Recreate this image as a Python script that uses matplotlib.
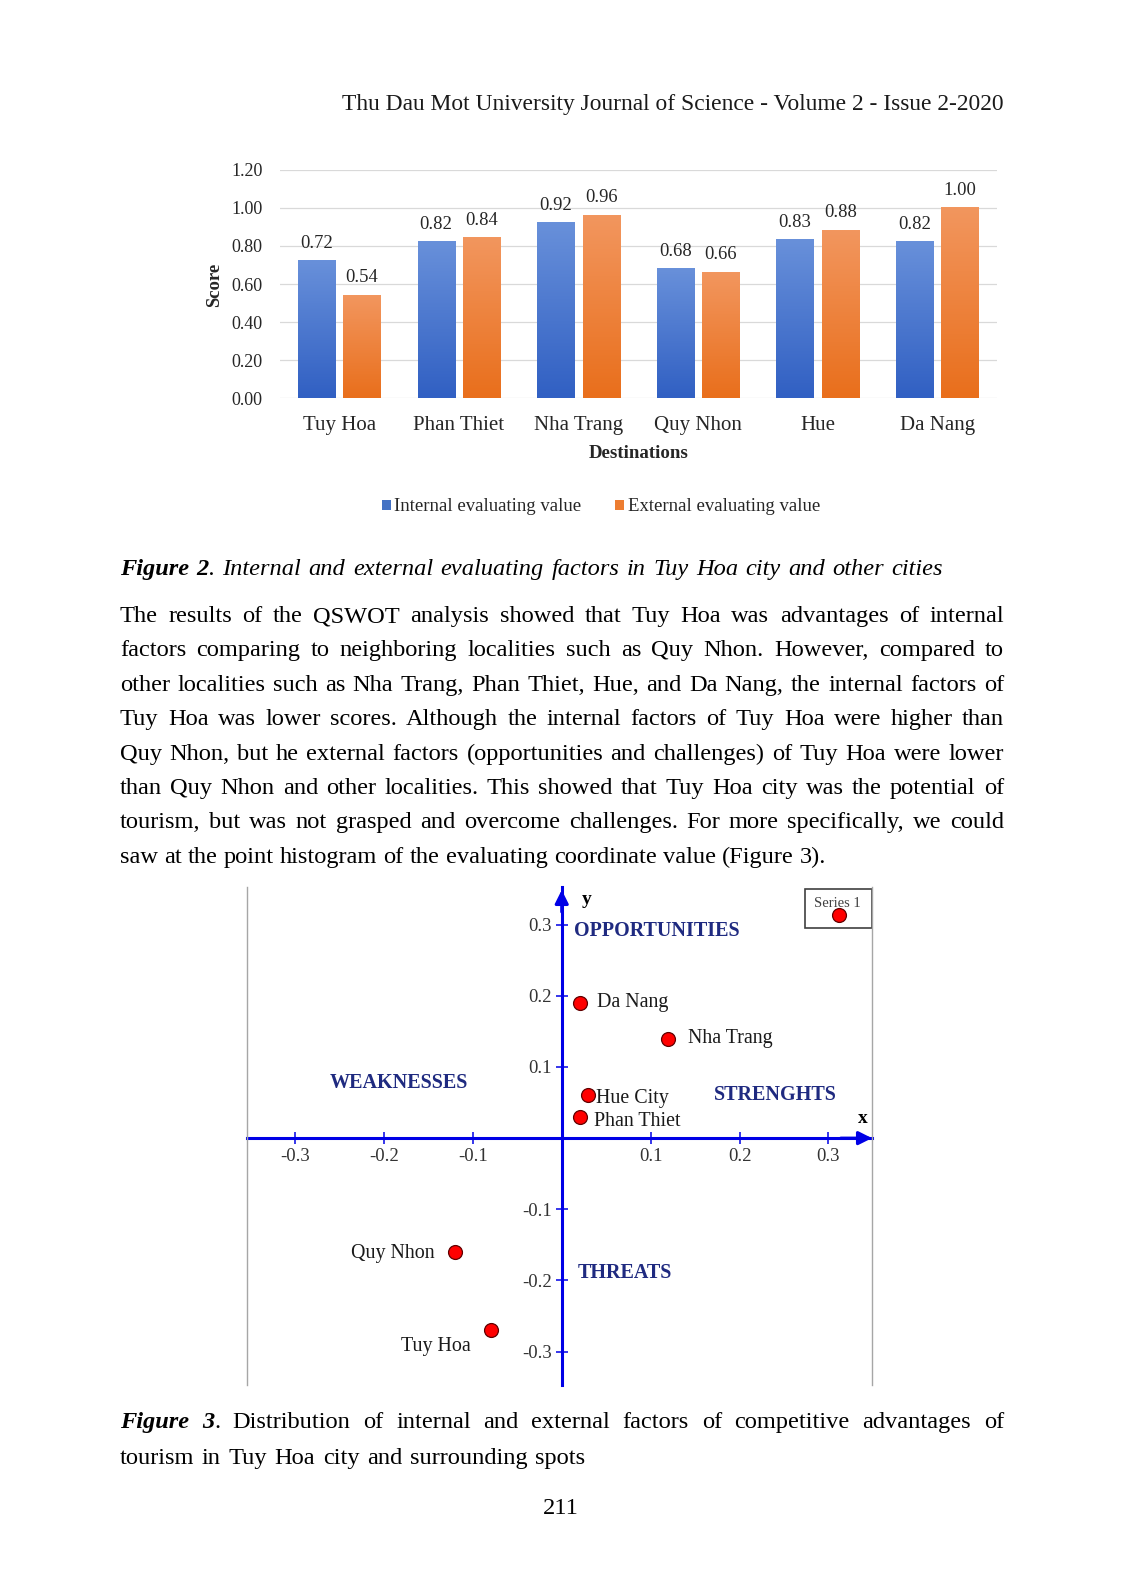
import matplotlib
matplotlib.use('Agg')
from matplotlib import pyplot as plt
from matplotlib.colors import LinearSegmentedColormap
from matplotlib.lines import Line2D
from matplotlib.patches import Rectangle
import numpy as np

W, H = 1122, 1594
SERIF = 'Liberation Serif'
plt.rcParams['font.family'] = SERIF

# --- figure 2 data ---
destinations = ['Tuy Hoa', 'Phan Thiet', 'Nha Trang', 'Quy Nhon', 'Hue', 'Da Nang']
internal_vals = [0.72, 0.82, 0.92, 0.68, 0.83, 0.82]
external_vals = [0.54, 0.84, 0.96, 0.66, 0.88, 1.00]
score_ticks = [0.0, 0.2, 0.4, 0.6, 0.8, 1.0, 1.2]

# --- figure 3 data ---
cities = ['Da Nang', 'Nha Trang', 'Hue City', 'Phan Thiet', 'Quy Nhon', 'Tuy Hoa']
city_x = [0.02, 0.12, 0.03, 0.02, -0.12, -0.08]
city_y = [0.19, 0.14, 0.06, 0.03, -0.16, -0.27]
coord_ticks = [-0.3, -0.2, -0.1, 0.1, 0.2, 0.3]
quadrants = ['OPPORTUNITIES', 'WEAKNESSES', 'STRENGHTS', 'THREATS']

# --- page text ---
header = 'Thu Dau Mot University Journal of Science - Volume 2 - Issue 2-2020'
caption2 = [('Figure 2', 'bi'), ('. Internal and external evaluating factors in Tuy Hoa city and other cities', 'i')]
paragraph = [
    'The results of the QSWOT analysis showed that Tuy Hoa was advantages of internal',
    'factors comparing to neighboring localities such as Quy Nhon. However, compared to',
    'other localities such as Nha Trang, Phan Thiet, Hue, and Da Nang, the internal factors of',
    'Tuy Hoa was lower scores. Although the internal factors of Tuy Hoa were higher than',
    'Quy Nhon, but he external factors (opportunities and challenges) of Tuy Hoa were lower',
    'than Quy Nhon and other localities. This showed that Tuy Hoa city was the potential of',
    'tourism, but was not grasped and overcome challenges. For more specifically, we could',
    'saw at the point histogram of the evaluating coordinate value (Figure 3).',
]
caption3 = [
    [('Figure 3', 'bi'), ('. Distribution of internal and external factors of competitive advantages of', 'n')],
    [('tourism in Tuy Hoa city and surrounding spots', 'n')],
]
page_no = '211'

# label placement for figure 3 (pixel offsets from the dot, alignment)
label_style = {
    'Da Nang': (17, 0, 'left'),
    'Nha Trang': (20, 0, 'left'),
    'Hue City': (8, -3, 'left'),
    'Phan Thiet': (14, -5, 'left'),
    'Quy Nhon': (-20, -2, 'right'),
    'Tuy Hoa': (-20, -16, 'right'),
}
quad_pos = {
    'OPPORTUNITIES': (0.0135, 0.291),
    'WEAKNESSES': (-0.261, 0.077),
    'STRENGHTS': (0.1715, 0.061),
    'THREATS': (0.0183, -0.190),
}

fig = plt.figure(figsize=(W / 100, H / 100), dpi=100)
fig.patch.set_facecolor('white')
renderer = fig.canvas.get_renderer()


def fx(x):
    return x / W


def fy(y):
    return 1 - y / H


def width_of(s, **kw):
    t = fig.text(0, 0, s, **kw)
    w = t.get_window_extent(renderer).width
    t.remove()
    return w


STYLES = {'n': dict(), 'i': dict(style='italic'), 'bi': dict(style='italic', weight='bold')}


def split_words(runs):
    words = [[]]
    for text, st in runs:
        parts = text.split(' ')
        for i, part in enumerate(parts):
            if i > 0:
                words.append([])
            if part:
                words[-1].append((part, st))
    return [w for w in words if w]


def draw_line(runs, y, x0, x1, size):
    # spread the words so the line runs from x0 to x1
    words = split_words(runs)
    widths = [sum(width_of(s, size=size, **STYLES[st]) for s, st in w) for w in words]
    gap = (x1 - x0 - sum(widths)) / max(len(words) - 1, 1)
    x = x0
    for word, w in zip(words, widths):
        xx = x
        for s, st in word:
            fig.text(fx(xx), fy(y), s, size=size, ha='left', va='baseline', color='black', **STYLES[st])
            xx += width_of(s, size=size, **STYLES[st])
        x += w + gap


# header and body text
hs = 15 * 666 / width_of(header, size=15)
fig.text(fx(1004), fy(110), header, ha='right', va='baseline', size=hs, color='#1a1a1a')

body = 16 * 706 / width_of(paragraph[-1], size=16)
LEFT, RIGHT = 120, 1004
# right ends of the lines that are not fully justified
line_ends = [RIGHT] * (len(paragraph) - 1) + [826]

draw_line(caption2, 575, LEFT, 943, body)
for i, line in enumerate(paragraph):
    draw_line([(line, 'n')], 622 + i * 34.4, LEFT, line_ends[i], body)
draw_line(caption3[0], 1428, LEFT, RIGHT, body)
draw_line(caption3[1], 1464, LEFT, 585, body)
fig.text(fx(561), fy(1514), page_no, ha='center', va='baseline', size=body)

# ---------------- figure 2: bar chart ----------------
ax1 = fig.add_axes([fx(279.5), fy(398.4), (997 - 279.5) / W, (398.4 - 169.7) / H])
pos = np.arange(len(destinations))
bw = 0.31
b_int = ax1.bar(pos - 0.19, internal_vals, bw, color='#4472c4', label='Internal evaluating value', zorder=2)
b_ext = ax1.bar(pos + 0.19, external_vals, bw, color='#ed7d31', label='External evaluating value', zorder=2)

grad = np.linspace(0, 1, 64).reshape(-1, 1)
for bars, (top, bot) in ((b_int, ('#6890da', '#3160c3')), (b_ext, ('#f2965e', '#e96f1c'))):
    cmap = LinearSegmentedColormap.from_list('g', [bot, top])
    for r in bars:
        ax1.imshow(grad, extent=[r.get_x(), r.get_x() + r.get_width(), 0, r.get_height()],
                   origin='lower', cmap=cmap, aspect='auto', zorder=3)
        ax1.annotate(f'{r.get_height():.2f}', (r.get_x() + r.get_width() / 2, r.get_height()),
                     xytext=(0, 9.5), textcoords='offset points', ha='center', va='baseline',
                     size=13.4, color='#262626')

ax1.set_xlim(-0.5, len(destinations) - 0.5)
ax1.set_ylim(0, 1.2)
ax1.set_yticks(score_ticks)
ax1.set_yticklabels([f'{t:.2f}' for t in score_ticks])
ax1.set_xticks(pos)
ax1.set_xticklabels(destinations)
ax1.tick_params(axis='y', length=0, pad=12, labelsize=13, labelcolor='#262626')
ax1.tick_params(axis='x', length=0, pad=13, labelsize=15, labelcolor='#262626')
ax1.yaxis.grid(True, color='#d9d9d9', lw=0.9)
ax1.set_axisbelow(True)
for s in ax1.spines.values():
    s.set_visible(False)
ax1.set_xlabel('Destinations', weight='bold', size=13.6, color='#262626')
ax1.xaxis.set_label_coords(0.5, -0.204)
fig.text(fx(214.5), fy(284.6), 'Score', rotation=90, ha='center', va='center',
         weight='bold', size=13.5, color='#262626')
fig.legend(handles=[b_int, b_ext], loc='center', bbox_to_anchor=(fx(601), fy(507)), ncol=2,
           frameon=False, fontsize=13.5, handlelength=0.48, handleheight=0.48,
           handletextpad=0.2, columnspacing=1.8, labelcolor='#262626')

# ---------------- figure 3: coordinate chart ----------------
BLUE = '#0000e6'
NAVY = '#1f2a80'
ax2 = fig.add_axes([fx(247), fy(1385), (872 - 247) / W, (1385 - 887) / H])
ax2.set_xlim(-0.354, 0.349)
ax2.set_ylim(-0.347, 0.353)
for side in ('top', 'right'):
    ax2.spines[side].set_visible(False)
for side in ('left', 'bottom'):
    ax2.spines[side].set_position(('data', 0))
    ax2.spines[side].set_color(BLUE)
    ax2.spines[side].set_linewidth(2.2)
ax2.set_xticks(coord_ticks)
ax2.set_xticklabels([f'{t:.1f}' for t in coord_ticks])
ax2.set_yticks(coord_ticks)
ax2.set_yticklabels([f'{t:.1f}' for t in coord_ticks])
ax2.tick_params(direction='inout', length=9, width=1.1, color=BLUE, labelsize=13.5,
                labelcolor='#333333')
ax2.tick_params(axis='x', pad=2.5)
ax2.tick_params(axis='y', pad=2.5)

ax2.annotate('', xy=(1, 0), xycoords=('axes fraction', 'data'), xytext=(0.95, 0),
             arrowprops=dict(arrowstyle='-|>', color=BLUE, lw=2.2, mutation_scale=20, shrinkA=0, shrinkB=0))
ax2.annotate('', xy=(0, 0.994), xycoords=('data', 'axes fraction'), xytext=(0, 0.95),
             arrowprops=dict(arrowstyle='-|>', color=BLUE, lw=2.2, mutation_scale=20, shrinkA=0, shrinkB=0))

ax2.scatter(city_x, city_y, s=100, color='#ff0000', edgecolor='#600000', linewidth=0.9, zorder=5)
for name, x, y in zip(cities, city_x, city_y):
    dx, dy, ha = label_style[name]
    ax2.annotate(name, (x, y), xytext=(dx * 0.72, dy * 0.72), textcoords='offset points',
                 ha=ha, va='center', size=14.4, color='#1a1a1a')

for q in quadrants:
    qx, qy = quad_pos[q]
    ax2.text(qx, qy, q, ha='left', va='center', weight='bold', size=14.5, color=NAVY)
ax2.text(0.0228, 0.3356, 'y', ha='left', va='center', weight='bold', size=14, color='black')
ax2.text(0.3384, 0.0281, 'x', ha='center', va='center', weight='bold', size=14, color='black')

# legend box "Series 1"
ax2.add_patch(Rectangle((0.893, 0.918), 0.107, 0.078, transform=ax2.transAxes, fc='white',
                        ec='#404040', lw=1.2, zorder=6, clip_on=False))
ax2.text(0.944, 0.967, 'Series 1', transform=ax2.transAxes, ha='center', va='center',
         size=10.5, color='#404040', zorder=7)
ax2.plot([0.948], [0.9446], 'o', transform=ax2.transAxes, ms=10, color='#ff0000',
         mec='#600000', mew=0.9, zorder=8, clip_on=False)

# gray frame lines of the pasted picture
for xl in (247, 872):
    fig.add_artist(Line2D([fx(xl), fx(xl)], [fy(887), fy(1385)], color='#a6a6a6', lw=1))

fig.savefig('out.png', dpi=100)
